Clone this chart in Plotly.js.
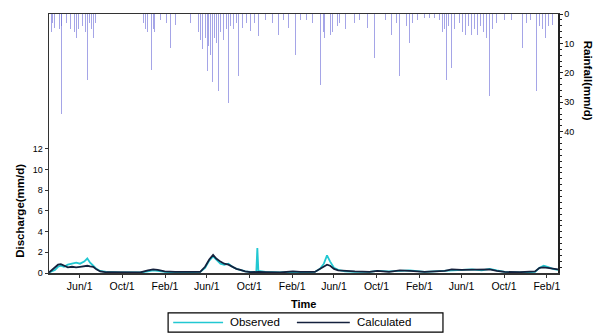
<!DOCTYPE html>
<html>
<head>
<meta charset="utf-8">
<script src="https://cdn.plot.ly/plotly-3.0.1.min.js"></script>
<style>html,body{margin:0;padding:0;background:#fff;}#chart{width:595px;height:335px;}</style>
</head>
<body>
<div id="chart"></div>
<script>
// Daily rainfall events (mm/d)
var rainDates = [
"2009-03-11","2009-03-16","2009-03-22","2009-03-28","2009-04-03","2009-04-09","2009-04-11","2009-04-17","2009-04-23",
"2009-05-05","2009-05-10","2009-05-16","2009-05-22","2009-05-28","2009-06-02","2009-06-08","2009-06-17","2009-06-23",
"2009-06-28","2009-07-04","2009-07-10","2009-07-16",
"2009-11-30","2009-12-08","2009-12-14","2009-12-20","2009-12-23","2009-12-29","2010-01-03","2010-01-09","2010-01-18",
"2010-02-04","2010-02-18","2010-03-02","2010-03-16","2010-04-05","2010-04-14","2010-04-28",
"2010-05-07","2010-05-13","2010-05-19","2010-05-24","2010-05-27","2010-06-02","2010-06-05","2010-06-11","2010-06-17",
"2010-06-22","2010-06-28","2010-07-04","2010-07-10","2010-07-18","2010-07-27","2010-08-02","2010-08-07","2010-08-16",
"2010-08-25","2010-08-30","2010-09-11","2010-09-22","2010-10-04","2010-10-15","2010-10-27","2010-11-16","2010-12-06",
"2010-12-23","2011-01-06","2011-01-21","2011-02-10","2011-02-24","2011-03-13","2011-03-31",
"2011-04-22","2011-05-01","2011-05-06","2011-05-12","2011-05-21","2011-05-29","2011-06-04","2011-06-10","2011-06-18",
"2011-07-03","2011-07-17","2011-07-31","2011-08-14","2011-09-06","2011-09-26","2011-10-11","2011-10-28","2011-11-14",
"2011-11-28","2011-12-07","2011-12-16","2011-12-27","2012-01-05","2012-01-13","2012-01-28","2012-02-16","2012-03-02",
"2012-03-16","2012-03-30","2012-04-08","2012-04-14","2012-04-20","2012-04-25","2012-05-04","2012-05-13","2012-05-27",
"2012-06-05","2012-06-13","2012-06-22","2012-07-01","2012-07-09","2012-07-18","2012-07-26","2012-08-04","2012-08-13",
"2012-08-21","2012-08-30","2012-09-10","2012-10-03","2012-10-23","2012-11-24","2012-12-05","2012-12-17","2013-01-03",
"2013-01-11","2013-01-20","2013-01-29","2013-02-06","2013-02-18"
];
var rainMm = [
6,3,4.8,2.5,5,34,4,14,3,
5,7,6,8,5,7,4,6,22.5,
3,5,8,3,
3,5,6,4,19,5,6,3,2,
3,11.6,3.8,2,14,3,2.5,
6,9,12,10,8,19.5,11,14,23,
8,10,26,6,9,5,30.4,4,5,
3,21,4.8,3,5.8,3,7.5,2,3,
7,2,4.8,14,2,2,3,
24,6,8,5,7,6,8,4,3,
5,7,3,2,4.8,15,2,2,7,
3,21,3,4,10,3,2,1.5,1.5,
1.5,2,6,5,22.5,4,18.4,5,3,
6,7,4,7,5,7,4,6,8,
28,5,3,2,2,11.6,3,2,26,
4,5,8,4,3.8
];

// Discharge (mm/d)
var qDates = [
"2009-03-05","2009-03-22","2009-03-31","2009-04-08","2009-04-17","2009-04-28","2009-05-10","2009-05-22","2009-06-02",
"2009-06-14","2009-06-23","2009-07-01","2009-07-10","2009-07-19","2009-07-30","2009-08-17","2009-09-26","2009-11-22",
"2009-12-14","2009-12-29","2010-01-11","2010-01-31","2010-03-02","2010-04-14","2010-05-13","2010-05-27","2010-06-08",
"2010-06-19","2010-06-28","2010-07-10","2010-07-21","2010-08-02","2010-08-13","2010-08-25","2010-09-05","2010-09-19",
"2010-10-04","2010-10-21","2010-10-24","2010-10-27","2010-11-16","2010-12-28","2011-02-03","2011-02-24","2011-04-07",
"2011-04-22","2011-05-03","2011-05-12","2011-05-21","2011-06-01","2011-06-13","2011-07-03","2011-07-31","2011-09-11",
"2011-10-04","2011-11-06","2011-12-07","2012-01-05","2012-02-16","2012-04-14","2012-05-04","2012-06-01","2012-07-01",
"2012-07-29","2012-08-21","2012-09-10","2012-10-03","2012-11-15","2012-12-29","2013-01-11","2013-01-23","2013-02-03",
"2013-02-18","2013-03-05"
];
var observedQ = [
0.05,0.3,0.6,0.7,0.6,0.8,0.9,1.0,0.9,
1.1,1.4,1.0,0.7,0.4,0.2,0.1,0.05,0.05,
0.15,0.25,0.2,0.1,0.05,0.05,0.1,0.5,1.2,
1.6,1.3,0.9,0.8,0.9,0.6,0.4,0.3,0.15,
0.1,0.1,2.4,0.2,0.1,0.05,0.1,0.05,0.1,
0.4,0.9,1.7,1.1,0.5,0.3,0.15,0.1,0.1,
0.2,0.15,0.2,0.25,0.1,0.2,0.3,0.3,0.35,
0.25,0.4,0.25,0.1,0.05,0.1,0.5,0.7,0.6,
0.4,0.3
];
var calculatedQ = [
0.05,0.5,0.8,0.85,0.7,0.55,0.6,0.55,0.6,
0.65,0.7,0.65,0.6,0.35,0.15,0.07,0.05,0.05,
0.25,0.35,0.3,0.15,0.1,0.08,0.1,0.6,1.3,
1.75,1.4,1.1,0.9,0.8,0.6,0.4,0.3,0.15,
0.08,0.05,0.1,0.1,0.08,0.05,0.15,0.1,0.1,
0.4,0.6,0.8,0.7,0.4,0.25,0.2,0.15,0.1,
0.2,0.1,0.25,0.2,0.1,0.2,0.35,0.3,0.3,
0.3,0.35,0.2,0.1,0.08,0.15,0.5,0.55,0.5,
0.45,0.35
];

var xTickVals = ["2009-06-01","2009-10-01","2010-02-01","2010-06-01","2010-10-01","2011-02-01",
                 "2011-06-01","2011-10-01","2012-02-01","2012-06-01","2012-10-01","2013-02-01"];
var xTickText = ["Jun/1","Oct/1","Feb/1","Jun/1","Oct/1","Feb/1","Jun/1","Oct/1","Feb/1","Jun/1","Oct/1","Feb/1"];
var qTicks = [0,2,4,6,8,10,12];
var rainTicks = [0,10,20,30,40];
var seriesNames = ["Observed","Calculated"];
var seriesColors = ["#22c8d2","#14213d"];

var F = "Liberation Sans, Arial, sans-serif";

var traces = [
  {type:"bar", x:rainDates, y:rainMm, yaxis:"y2", showlegend:false,
   width:2.6*86400000, marker:{color:"rgba(105,105,215,0.6)", line:{width:0}}},
  {type:"scatter", mode:"lines", name:seriesNames[0], x:qDates, y:observedQ, showlegend:false,
   line:{color:seriesColors[0], width:1.8}},
  {type:"scatter", mode:"lines", name:seriesNames[1], x:qDates, y:calculatedQ, showlegend:false,
   line:{color:seriesColors[1], width:1.8}}
];

// Legend box drawn below the plot (paper coordinates)
var legY = -0.191;
var legendShapes = [
  {type:"rect", xref:"paper", yref:"paper", x0:0.234, x1:0.774, y0:-0.228, y1:-0.154,
   line:{color:"#000", width:1.2}, fillcolor:"#fff", layer:"above"},
  {type:"line", xref:"paper", yref:"paper", x0:0.244, x1:0.342, y0:legY, y1:legY,
   line:{color:seriesColors[0], width:1.6}},
  {type:"line", xref:"paper", yref:"paper", x0:0.487, x1:0.591, y0:legY, y1:legY,
   line:{color:seriesColors[1], width:1.6}}
];

var layout = {
  width:595, height:335,
  margin:{l:49, r:37, t:14, b:62, pad:0},
  paper_bgcolor:"#fff", plot_bgcolor:"#fff",
  font:{family:F, size:8, color:"#000"},
  showlegend:false,
  bargap:0,
  xaxis:{type:"date", range:["2009-03-05","2013-03-05"], tickvals:xTickVals, ticktext:xTickText,
         showline:true, linecolor:"#333", linewidth:1.5, mirror:true, showgrid:false, zeroline:false,
         ticks:"outside", ticklen:3, tickcolor:"#333", tickfont:{size:10.5, family:F}},
  yaxis:{range:[0,25], tickvals:qTicks, showline:true, linecolor:"#333", linewidth:1.5,
         showgrid:false, zeroline:false, ticks:"outside", ticklen:3, tickcolor:"#333",
         tickfont:{size:9, family:F}},
  yaxis2:{overlaying:"y", side:"right", range:[88,0], tickvals:rainTicks,
          showline:true, linecolor:"#222", linewidth:1.5, showgrid:false, zeroline:false,
          ticks:"outside", ticklen:3, tickcolor:"#222", tickfont:{size:9, family:F},
          minor:{tickvals:[2,4,6,8,12,14,16,18,22,24,26,28,32,34,36,38,42,44,46,48,50,52,54,56,58,60,62,64,66,68,70,72,74,76,78,80,82,84,86],
                 ticks:"outside", ticklen:2, tickcolor:"#222", showgrid:false}},
  shapes: legendShapes,
  annotations:[
    {text:"<b>Time</b>", xref:"paper", yref:"paper", x:0.5, y:-0.087, xanchor:"center", yanchor:"top",
     showarrow:false, font:{size:11, family:F}},
    {text:"<b>Discharge(mm/d)</b>", xref:"paper", yref:"y", x:-0.057, y:6, xanchor:"center", yanchor:"middle",
     textangle:-90, showarrow:false, font:{size:11.5, family:F}},
    {text:"<b>Rainfall(mm/d)</b>", xref:"paper", yref:"y2", x:1.058, y:22.5, xanchor:"center", yanchor:"middle",
     textangle:90, showarrow:false, font:{size:11.5, family:F}},
    {text:seriesNames[0], xref:"paper", yref:"paper", x:0.352, y:legY, xanchor:"left", yanchor:"middle",
     showarrow:false, font:{size:11.5, family:F}},
    {text:seriesNames[1], xref:"paper", yref:"paper", x:0.602, y:legY, xanchor:"left", yanchor:"middle",
     showarrow:false, font:{size:11.5, family:F}}
  ]
};

Plotly.newPlot("chart", traces, layout, {displayModeBar:false, staticPlot:true});
</script>
</body>
</html>
